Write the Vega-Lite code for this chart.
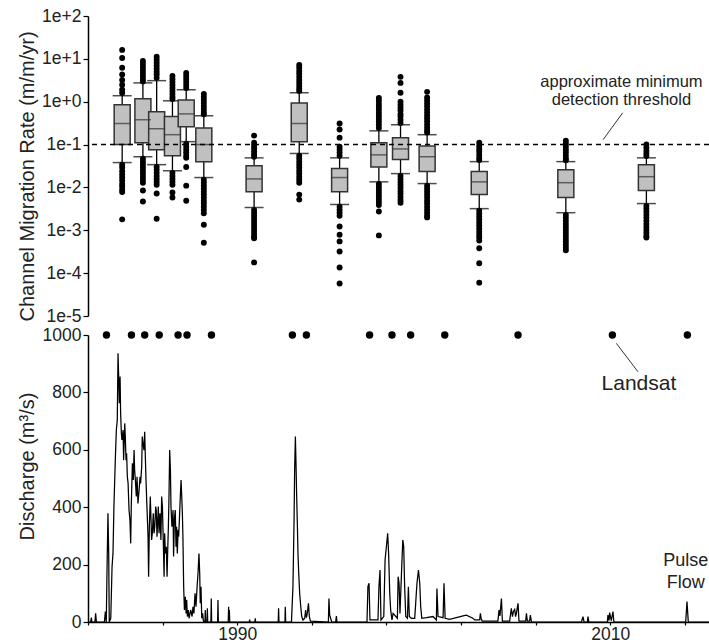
{
  "$schema": "https://vega.github.io/schema/vega-lite/v6.json",
  "padding": {"left": 17, "top": 7, "right": 0, "bottom": 0},
  "bounds": "flush",
  "spacing": 19,
  "config": {
    "view": {"stroke": null},
    "font": "Liberation Sans",
    "axis": {
      "domainColor": "#000", "domainWidth": 1.5, "tickColor": "#000", "tickWidth": 1.2, "tickSize": 5,
      "labelFont": "Liberation Sans", "labelFontSize": 17.5, "labelColor": "#222", "labelPadding": 2,
      "titleFont": "Liberation Sans", "titleFontSize": 20, "titleFontWeight": "normal", "titleColor": "#222", "grid": false
    }
  },
  "datasets": {
    "one": [{}],
    "boxes": [
      {"t": 1983.59, "lo": 0.038, "q1": 0.1, "med": 0.31, "q3": 0.85, "hi": 1.38},
      {"t": 1984.72, "lo": 0.052, "q1": 0.11, "med": 0.38, "q3": 1.17, "hi": 2.75},
      {"t": 1985.47, "lo": 0.034, "q1": 0.076, "med": 0.234, "q3": 0.58, "hi": 3.1},
      {"t": 1986.33, "lo": 0.0245, "q1": 0.055, "med": 0.17, "q3": 0.45, "hi": 1.05},
      {"t": 1987.08, "lo": 0.117, "q1": 0.26, "med": 0.52, "q3": 1.1, "hi": 1.9},
      {"t": 1988.04, "lo": 0.017, "q1": 0.04, "med": 0.1, "q3": 0.245, "hi": 0.47},
      {"t": 1990.78, "lo": 0.0034, "q1": 0.0079, "med": 0.0158, "q3": 0.032, "hi": 0.049},
      {"t": 1993.24, "lo": 0.062, "q1": 0.117, "med": 0.31, "q3": 0.93, "hi": 1.62},
      {"t": 1995.44, "lo": 0.004, "q1": 0.0079, "med": 0.017, "q3": 0.0275, "hi": 0.049},
      {"t": 1997.58, "lo": 0.0135, "q1": 0.03, "med": 0.0575, "q3": 0.11, "hi": 0.209},
      {"t": 1998.76, "lo": 0.021, "q1": 0.045, "med": 0.079, "q3": 0.145, "hi": 0.29},
      {"t": 2000.21, "lo": 0.0123, "q1": 0.0234, "med": 0.052, "q3": 0.093, "hi": 0.17},
      {"t": 2003.05, "lo": 0.0032, "q1": 0.0068, "med": 0.0135, "q3": 0.0234, "hi": 0.04},
      {"t": 2007.77, "lo": 0.00257, "q1": 0.0058, "med": 0.0129, "q3": 0.0257, "hi": 0.04},
      {"t": 2012.16, "lo": 0.0042, "q1": 0.0085, "med": 0.0178, "q3": 0.034, "hi": 0.049}
    ],
    "outliers": [
      {"t": 1983.59, "v": [16.2,10.5,6.2,4.3,3.2,2.5,1.9,1.6,0.034,0.029,0.024,0.02,0.017,0.0145,0.012,0.0105,0.0088,0.0078,0.0018]},
      {"t": 1984.72, "v": [8.9,7.6,6.5,5.5,4.7,4.0,3.4,2.95,0.047,0.04,0.034,0.029,0.0245,0.021,0.0178,0.0151,0.0129,0.0085,0.0047]},
      {"t": 1985.47, "v": [11.2,9.5,8.1,6.9,5.9,5.0,4.3,3.6,0.03,0.0257,0.0219,0.0186,0.0158,0.0135,0.0115,0.0072,0.00186]},
      {"t": 1986.33, "v": [3.98,3.4,2.9,2.45,2.1,1.78,1.51,1.29,1.15,0.0219,0.0186,0.0158,0.0135,0.0115,0.0076,0.0058]},
      {"t": 1987.08, "v": [4.7,4.0,3.4,2.9,2.45,2.1,0.105,0.089,0.076,0.065,0.055,0.049,0.03,0.011,0.0049]},
      {"t": 1988.04, "v": [1.51,1.29,1.1,0.93,0.79,0.68,0.575,0.51,0.0151,0.0129,0.011,0.0093,0.0079,0.0068,0.0058,0.0049,0.0042,0.00355,0.003,0.0025,0.00135,0.00051]},
      {"t": 1990.78, "v": [0.162,0.11,0.094,0.081,0.069,0.059,0.052,0.003,0.00257,0.00219,0.00186,0.00158,0.00135,0.00115,0.00098,0.00083,0.00071,0.00065,0.000178]},
      {"t": 1993.24, "v": [7.2,6.2,5.2,4.5,3.8,3.2,2.75,2.34,2.0,1.78,0.055,0.047,0.04,0.034,0.029,0.0245,0.021,0.0178,0.0151,0.0129,0.0068,0.0052]},
      {"t": 1995.44, "v": [0.31,0.224,0.145,0.089,0.076,0.065,0.055,0.00355,0.003,0.00257,0.00219,0.00123,0.00079,0.00055,0.00032,0.000135,0.0000575]},
      {"t": 1997.58, "v": [1.23,1.05,0.89,0.76,0.65,0.55,0.47,0.4,0.34,0.29,0.245,0.012,0.0102,0.0087,0.0074,0.0063,0.0054,0.0046,0.0039,0.00275,0.00076]},
      {"t": 1998.76, "v": [3.8,2.75,1.62,1.0,0.85,0.72,0.62,0.52,0.45,0.38,0.32,0.0186,0.0158,0.0135,0.0115,0.0098,0.0083,0.0071,0.006,0.0051,0.0044]},
      {"t": 2000.21, "v": [1.7,1.26,1.07,0.91,0.78,0.66,0.56,0.48,0.41,0.35,0.295,0.25,0.214,0.19,0.011,0.0093,0.0079,0.0068,0.0058,0.0049,0.0042,0.00355,0.003,0.00257,0.00219,0.002]},
      {"t": 2003.05, "v": [0.11,0.093,0.079,0.068,0.0575,0.049,0.0437,0.00288,0.00245,0.00209,0.00178,0.00151,0.00129,0.0011,0.00093,0.00079,0.00068,0.000575,0.00038,0.00017,0.00006]},
      {"t": 2007.77, "v": [0.123,0.105,0.089,0.076,0.065,0.055,0.047,0.043,0.00229,0.00195,0.00166,0.00141,0.0012,0.00102,0.00087,0.00074,0.00063,0.00054,0.00046,0.00039,0.00034]},
      {"t": 2012.16, "v": [0.1,0.085,0.072,0.062,0.054,0.0037,0.00316,0.0027,0.00229,0.00195,0.00166,0.00141,0.0012,0.00102,0.00087,0.00074,0.00068]}
    ],
    "landsat": [
      {"t": 1982.99}, {"t": 1984.33}, {"t": 1985.04}, {"t": 1985.82}, {"t": 1986.83}, {"t": 1987.31}, {"t": 1988.62},
      {"t": 1992.96}, {"t": 1993.71}, {"t": 1997.10}, {"t": 1998.30}, {"t": 1999.30}, {"t": 2001.13},
      {"t": 2005.06}, {"t": 2010.12}, {"t": 2014.14}
    ],
    "flow": [
      {"t":1982.0,"q":0},{"t":1982.14,"q":0},{"t":1982.18,"q":15},{"t":1982.21,"q":0},{"t":1982.37,"q":0},{"t":1982.41,"q":30},{"t":1982.45,"q":0},
      {"t":1982.88,"q":0},{"t":1982.93,"q":36},{"t":1982.98,"q":0},{"t":1983.02,"q":181},{"t":1983.07,"q":379},{"t":1983.11,"q":239},{"t":1983.14,"q":0},
      {"t":1983.22,"q":13},{"t":1983.29,"q":193},{"t":1983.34,"q":239},{"t":1983.39,"q":402},{"t":1983.47,"q":576},{"t":1983.52,"q":669},{"t":1983.57,"q":704},
      {"t":1983.61,"q":936},{"t":1983.64,"q":866},{"t":1983.68,"q":762},{"t":1983.72,"q":855},{"t":1983.75,"q":727},{"t":1983.79,"q":657},{"t":1983.82,"q":634},
      {"t":1983.88,"q":669},{"t":1983.91,"q":564},{"t":1983.97,"q":692},{"t":1984.0,"q":646},{"t":1984.04,"q":564},{"t":1984.07,"q":588},{"t":1984.11,"q":506},
      {"t":1984.15,"q":483},{"t":1984.2,"q":390},{"t":1984.25,"q":355},{"t":1984.29,"q":274},{"t":1984.32,"q":402},{"t":1984.38,"q":553},{"t":1984.43,"q":495},
      {"t":1984.47,"q":599},{"t":1984.5,"q":530},{"t":1984.54,"q":495},{"t":1984.59,"q":437},{"t":1984.63,"q":506},{"t":1984.68,"q":413},{"t":1984.74,"q":460},
      {"t":1984.79,"q":506},{"t":1984.82,"q":483},{"t":1984.88,"q":541},{"t":1984.91,"q":646},{"t":1984.95,"q":622},{"t":1985.0,"q":599},{"t":1985.04,"q":663},
      {"t":1985.07,"q":588},{"t":1985.11,"q":495},{"t":1985.16,"q":402},{"t":1985.22,"q":297},{"t":1985.25,"q":158},{"t":1985.29,"q":332},{"t":1985.34,"q":437},
      {"t":1985.38,"q":355},{"t":1985.41,"q":286},{"t":1985.45,"q":309},{"t":1985.5,"q":379},{"t":1985.54,"q":309},{"t":1985.58,"q":332},{"t":1985.63,"q":402},
      {"t":1985.66,"q":390},{"t":1985.7,"q":297},{"t":1985.74,"q":355},{"t":1985.77,"q":402},{"t":1985.81,"q":309},{"t":1985.86,"q":379},{"t":1985.91,"q":286},
      {"t":1985.95,"q":437},{"t":1985.99,"q":402},{"t":1986.04,"q":274},{"t":1986.08,"q":158},{"t":1986.11,"q":309},{"t":1986.15,"q":239},{"t":1986.2,"q":262},
      {"t":1986.24,"q":158},{"t":1986.27,"q":239},{"t":1986.31,"q":332},{"t":1986.34,"q":425},{"t":1986.38,"q":599},{"t":1986.42,"q":530},{"t":1986.45,"q":402},
      {"t":1986.5,"q":332},{"t":1986.56,"q":390},{"t":1986.59,"q":228},{"t":1986.63,"q":355},{"t":1986.68,"q":390},{"t":1986.72,"q":262},{"t":1986.75,"q":332},
      {"t":1986.79,"q":239},{"t":1986.83,"q":321},{"t":1986.86,"q":297},{"t":1986.9,"q":355},{"t":1986.95,"q":437},{"t":1986.99,"q":495},{"t":1987.02,"q":448},
      {"t":1987.06,"q":379},{"t":1987.09,"q":297},{"t":1987.13,"q":123},{"t":1987.17,"q":42},{"t":1987.22,"q":88},{"t":1987.26,"q":30},{"t":1987.29,"q":77},
      {"t":1987.33,"q":19},{"t":1987.38,"q":42},{"t":1987.42,"q":13},{"t":1987.47,"q":30},{"t":1987.51,"q":42},{"t":1987.58,"q":19},{"t":1987.63,"q":53},
      {"t":1987.68,"q":30},{"t":1987.74,"q":100},{"t":1987.79,"q":53},{"t":1987.85,"q":123},{"t":1987.9,"q":170},{"t":1987.95,"q":239},{"t":1987.99,"q":170},
      {"t":1988.02,"q":65},{"t":1988.06,"q":123},{"t":1988.1,"q":13},{"t":1988.15,"q":30},{"t":1988.18,"q":7},{"t":1988.22,"q":0},
      {"t":1988.27,"q":0},{"t":1988.29,"q":42},{"t":1988.31,"q":0},{"t":1988.38,"q":0},{"t":1988.4,"q":48},{"t":1988.42,"q":0},
      {"t":1988.59,"q":0},{"t":1988.61,"q":82},{"t":1988.63,"q":0},{"t":1988.95,"q":0},{"t":1988.97,"q":77},{"t":1988.99,"q":0},
      {"t":1989.52,"q":0},{"t":1989.54,"q":53},{"t":1989.56,"q":10},{"t":1989.58,"q":42},{"t":1989.6,"q":0},
      {"t":1990.65,"q":0},{"t":1990.67,"q":8},{"t":1990.69,"q":0},{"t":1990.95,"q":0},{"t":1990.97,"q":13},{"t":1990.99,"q":0},
      {"t":1992.2,"q":0},{"t":1992.22,"q":48},{"t":1992.24,"q":0},{"t":1992.56,"q":0},{"t":1992.58,"q":53},{"t":1992.6,"q":0},
      {"t":1992.91,"q":0},{"t":1992.99,"q":123},{"t":1993.05,"q":355},{"t":1993.08,"q":530},{"t":1993.12,"q":646},{"t":1993.15,"q":564},{"t":1993.19,"q":437},
      {"t":1993.23,"q":332},{"t":1993.26,"q":239},{"t":1993.3,"q":170},{"t":1993.35,"q":100},{"t":1993.41,"q":53},{"t":1993.46,"q":19},{"t":1993.53,"q":7},
      {"t":1993.62,"q":13},{"t":1993.67,"q":42},{"t":1993.71,"q":15},{"t":1993.76,"q":30},{"t":1993.82,"q":65},{"t":1993.87,"q":19},{"t":1993.93,"q":3},
      {"t":1994.89,"q":0},{"t":1994.92,"q":82},{"t":1994.96,"q":24},{"t":1995.01,"q":13},{"t":1995.07,"q":0},{"t":1995.28,"q":0},{"t":1995.32,"q":21},{"t":1995.35,"q":0},
      {"t":1996.96,"q":0},{"t":1997.01,"q":123},{"t":1997.07,"q":135},{"t":1997.12,"q":7},{"t":1997.55,"q":7},{"t":1997.6,"q":123},{"t":1997.66,"q":181},{"t":1997.71,"q":7},
      {"t":1997.86,"q":19},{"t":1997.93,"q":216},{"t":1998.0,"q":262},{"t":1998.07,"q":309},{"t":1998.12,"q":239},{"t":1998.18,"q":100},{"t":1998.23,"q":42},
      {"t":1998.3,"q":7},{"t":1998.36,"q":30},{"t":1998.59,"q":13},{"t":1998.63,"q":158},{"t":1998.68,"q":135},{"t":1998.73,"q":30},{"t":1998.81,"q":170},
      {"t":1998.88,"q":286},{"t":1998.93,"q":262},{"t":1998.98,"q":123},{"t":1999.04,"q":19},{"t":1999.13,"q":13},{"t":1999.18,"q":123},{"t":1999.23,"q":19},
      {"t":1999.34,"q":13},{"t":1999.52,"q":13},{"t":1999.64,"q":135},{"t":1999.72,"q":181},{"t":1999.79,"q":135},{"t":1999.84,"q":53},{"t":1999.9,"q":13},
      {"t":2000.15,"q":15},{"t":2000.5,"q":19},{"t":2000.68,"q":7},{"t":2000.71,"q":117},{"t":2000.77,"q":19},{"t":2001.04,"q":15},{"t":2001.09,"q":135},
      {"t":2001.15,"q":13},{"t":2001.39,"q":9},{"t":2001.75,"q":15},{"t":2002.11,"q":21},{"t":2002.29,"q":24},{"t":2002.64,"q":13},{"t":2002.74,"q":7},
      {"t":2003.0,"q":7},{"t":2003.04,"q":30},{"t":2003.09,"q":9},{"t":2003.15,"q":3},{"t":2003.72,"q":3},{"t":2003.98,"q":3},{"t":2004.04,"q":42},
      {"t":2004.09,"q":21},{"t":2004.17,"q":82},{"t":2004.22,"q":3},{"t":2004.61,"q":3},{"t":2004.7,"q":48},{"t":2004.76,"q":19},{"t":2004.81,"q":36},
      {"t":2004.88,"q":44},{"t":2004.93,"q":19},{"t":2004.97,"q":30},{"t":2005.06,"q":65},{"t":2005.11,"q":3},{"t":2005.47,"q":3},{"t":2005.51,"q":30},
      {"t":2005.56,"q":3},{"t":2005.68,"q":3},{"t":2005.72,"q":24},{"t":2005.78,"q":0},{"t":2008.46,"q":0},{"t":2008.54,"q":19},{"t":2008.6,"q":0},
      {"t":2008.78,"q":0},{"t":2008.81,"q":19},{"t":2008.86,"q":0},{"t":2009.85,"q":0},{"t":2009.88,"q":24},{"t":2009.94,"q":5},{"t":2009.97,"q":33},
      {"t":2010.06,"q":5},{"t":2010.15,"q":36},{"t":2010.2,"q":0},{"t":2014.05,"q":0},{"t":2014.12,"q":71},{"t":2014.19,"q":0},{"t":2015.3,"q":0}
    ]
  },
  "vconcat": [
    {
      "width": 621,
      "height": 300,
      "layer": [
        {
          "data": {"name": "boxes"},
          "mark": {"type": "rule", "color": "#000", "strokeWidth": 1.3},
          "encoding": {
            "x": {"field": "t", "type": "quantitative", "scale": {"domain": [1982, 2015.3], "nice": false, "zero": false}, "axis": null},
            "y": {"field": "lo", "type": "quantitative", "scale": {"type": "log", "domain": [0.00001, 100], "nice": false},
                  "axis": {"values": [0.00001, 0.0001, 0.001, 0.01, 0.1, 1, 10, 100], "format": ".0e", "minExtent": 47, "maxExtent": 47, "titlePadding": 4, "titleY": 160},
                  "title": "Channel Migration Rate (m/m/yr)"},
            "y2": {"field": "hi"}
          }
        },
        {
          "data": {"name": "boxes"},
          "mark": {"type": "tick", "orient": "horizontal", "size": 19, "thickness": 1.5, "color": "#000"},
          "encoding": {"x": {"field": "t", "type": "quantitative"}, "y": {"field": "lo", "type": "quantitative"}}
        },
        {
          "data": {"name": "boxes"},
          "mark": {"type": "tick", "orient": "horizontal", "size": 19, "thickness": 1.5, "color": "#000"},
          "encoding": {"x": {"field": "t", "type": "quantitative"}, "y": {"field": "hi", "type": "quantitative"}}
        },
        {
          "data": {"name": "boxes"},
          "mark": {"type": "bar", "size": 16, "fill": "#c0c0c0", "stroke": "#333", "strokeWidth": 1.5},
          "encoding": {"x": {"field": "t", "type": "quantitative"}, "y": {"field": "q1", "type": "quantitative"}, "y2": {"field": "q3"}}
        },
        {
          "data": {"name": "boxes"},
          "mark": {"type": "tick", "orient": "horizontal", "size": 16, "thickness": 1.5, "color": "#333"},
          "encoding": {"x": {"field": "t", "type": "quantitative"}, "y": {"field": "med", "type": "quantitative"}}
        },
        {
          "data": {"name": "one"},
          "mark": {"type": "rule", "strokeDash": [5, 4], "strokeWidth": 1.5, "color": "#000"},
          "encoding": {"y": {"datum": 0.1}}
        },
        {
          "data": {"name": "outliers"},
          "transform": [{"flatten": ["v"]}],
          "mark": {"type": "circle", "size": 35, "color": "#000", "opacity": 1},
          "encoding": {"x": {"field": "t", "type": "quantitative"}, "y": {"field": "v", "type": "quantitative"}}
        },
        {
          "data": {"name": "one"},
          "mark": {"type": "rule", "color": "#333", "strokeWidth": 1},
          "encoding": {"x": {"datum": 2010.87}, "y": {"datum": 0.552}, "x2": {"datum": 2009.8}, "y2": {"datum": 0.13}}
        },
        {
          "data": {"name": "one"},
          "mark": {"type": "text", "text": "approximate minimum", "fontSize": 16.5, "font": "Liberation Sans", "color": "#222", "align": "center", "baseline": "middle"},
          "encoding": {"x": {"datum": 2010.8}, "y": {"datum": 2.9}}
        },
        {
          "data": {"name": "one"},
          "mark": {"type": "text", "text": "detection threshold", "fontSize": 16.5, "font": "Liberation Sans", "color": "#222", "align": "center", "baseline": "middle"},
          "encoding": {"x": {"datum": 2010.8}, "y": {"datum": 1.107}}
        }
      ]
    },
    {
      "width": 621,
      "height": 287,
      "layer": [
        {
          "data": {"name": "flow"},
          "mark": {"type": "line", "color": "#000", "strokeWidth": 1.25},
          "encoding": {
            "x": {"field": "t", "type": "quantitative", "scale": {"domain": [1982, 2015.3], "nice": false, "zero": false},
                  "axis": {"values": [1982,1984,1986,1988,1990,1992,1994,1996,1998,2000,2002,2004,2006,2008,2010,2012,2014],
                           "labelExpr": "datum.value % 10 === 0 ? datum.label : ''", "format": "d", "labelOverlap": false,
                           "tickSize": 3, "labelPadding": 0, "labelFontSize": 17.5, "title": null}},
            "y": {"field": "q", "type": "quantitative", "scale": {"domain": [0, 1000], "nice": false},
                  "axis": {"values": [0, 200, 400, 600, 800, 1000], "format": "d", "minExtent": 47, "maxExtent": 47, "titlePadding": 4, "titleY": 131},
                  "title": "Discharge (m³/s)"}
          }
        },
        {
          "data": {"name": "landsat"},
          "mark": {"type": "circle", "size": 55, "color": "#000", "opacity": 1},
          "encoding": {"x": {"field": "t", "type": "quantitative"}, "y": {"datum": 1000}}
        },
        {
          "data": {"name": "one"},
          "mark": {"type": "rule", "color": "#333", "strokeWidth": 1},
          "encoding": {"x": {"datum": 2010.33}, "y": {"datum": 971}, "x2": {"datum": 2011.49}, "y2": {"datum": 872}}
        },
        {
          "data": {"name": "one"},
          "mark": {"type": "text", "text": "Landsat", "fontSize": 21, "font": "Liberation Sans", "color": "#222", "align": "center", "baseline": "middle"},
          "encoding": {"x": {"datum": 2011.54}, "y": {"datum": 829}}
        },
        {
          "data": {"name": "one"},
          "mark": {"type": "text", "text": "Pulse", "fontSize": 18, "font": "Liberation Sans", "color": "#222", "align": "center", "baseline": "middle"},
          "encoding": {"x": {"datum": 2014.05}, "y": {"datum": 214}}
        },
        {
          "data": {"name": "one"},
          "mark": {"type": "text", "text": "Flow", "fontSize": 18, "font": "Liberation Sans", "color": "#222", "align": "center", "baseline": "middle"},
          "encoding": {"x": {"datum": 2014.05}, "y": {"datum": 136}}
        }
      ]
    }
  ]
}
